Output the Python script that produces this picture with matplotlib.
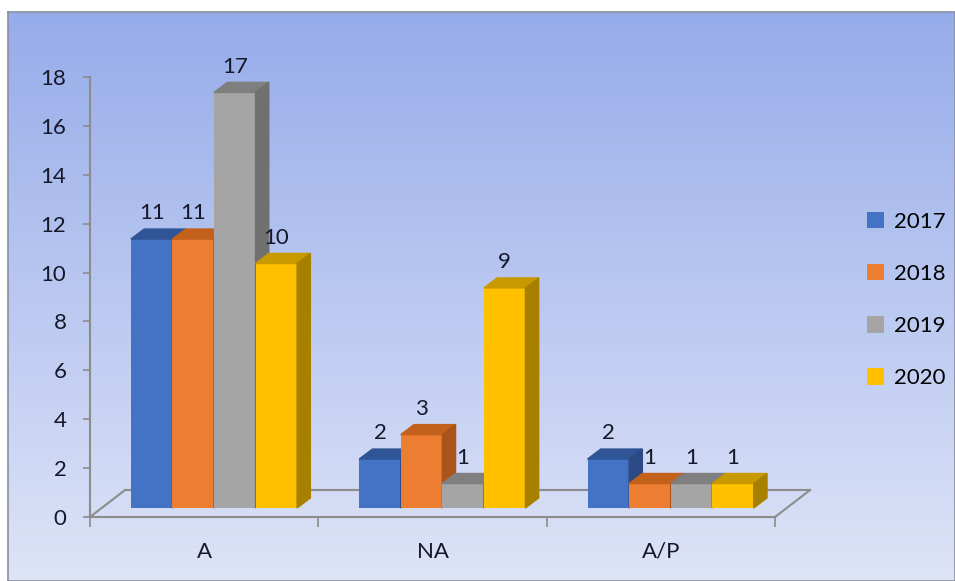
import numpy as np
import matplotlib.pyplot as plt
from matplotlib.patches import Polygon, Patch

# dados do gráfico
categorias = ['A', 'NA', 'A/P']
anos = ['2017', '2018', '2019', '2020']
valores_2017 = [11, 2, 2]
valores_2018 = [11, 3, 1]
valores_2019 = [17, 1, 1]
valores_2020 = [10, 9, 1]
series = [valores_2017, valores_2018, valores_2019, valores_2020]

cores_frente = ['#4472C4', '#ED7D31', '#A5A5A5', '#FFC000']
cores_topo = ['#2F5597', '#C2601C', '#7F7F7F', '#C99A00']
cores_lado = ['#2B4A86', '#A9541A', '#707070', '#A88000']

plt.rcParams['font.family'] = ['Lato', 'DejaVu Sans']
fs = 16
cor_texto = '#15172A'

fig = plt.figure(figsize=(9.55, 5.81), dpi=100)

# fundo em degradê
bg = fig.add_axes([8 / 955, 0, 1 - 8 / 955, 1 - 12 / 581], zorder=-10)
top_c = np.array([150, 172, 234]) / 255
bot_c = np.array([222, 228, 247]) / 255
t = np.linspace(0, 1, 256)[:, None]
grad = top_c * (1 - t) + bot_c * t
bg.imshow(grad[:, None, :].repeat(2, axis=1), aspect='auto', extent=[0, 1, 0, 1])
bg.set_xticks([])
bg.set_yticks([])
for s in bg.spines.values():
    s.set_color('#8A8FA0')
    s.set_linewidth(1.2)

ax = fig.add_axes([90 / 955, 64 / 581, 685 / 955, 440 / 581])
ax.set_facecolor('none')
ax.set_xlim(-0.5, 2.5)
ax.set_ylim(0, 18)

cinza = '#8C8C8C'
# profundidade do piso
pdx, pdy = 0.153, 1.10
ax.plot([-0.5, -0.5 + pdx], [0, pdy], color=cinza, lw=1.5, clip_on=False, zorder=1)
ax.plot([-0.5 + pdx, 2.5 + pdx], [pdy, pdy], color=cinza, lw=1.5, clip_on=False, zorder=1)
ax.plot([2.5, 2.5 + pdx], [0, pdy], color=cinza, lw=1.5, clip_on=False, zorder=1)

# barras pseudo-3D
w = 0.182
desloc = 0.043
base = 0.37
ddx, ddy = 0.058, 0.41
x = np.arange(len(categorias))
z = 3
for i in range(len(categorias)):
    for j, vals in enumerate(series):
        xl = x[i] + desloc - 2 * w + j * w
        v = vals[i]
        ax.bar(xl, v, width=w, bottom=base, align='edge', color=cores_frente[j],
               zorder=z, clip_on=False)
        topo = [(xl, base + v), (xl + w, base + v), (xl + w + ddx, base + v + ddy),
                (xl + ddx, base + v + ddy)]
        lado = [(xl + w, base), (xl + w, base + v), (xl + w + ddx, base + v + ddy),
                (xl + w + ddx, base + ddy)]
        ax.add_patch(Polygon(topo, closed=True, color=cores_topo[j], zorder=z, clip_on=False))
        ax.add_patch(Polygon(lado, closed=True, color=cores_lado[j], zorder=z, clip_on=False))
        ax.annotate(str(v), (xl + w / 2, base + v + ddy), xytext=(0, 4),
                    textcoords='offset points', ha='center', va='bottom',
                    fontsize=fs, color=cor_texto, zorder=50)
        z += 1

# eixos
for lado_sp in ['top', 'right']:
    ax.spines[lado_sp].set_visible(False)
for lado_sp in ['left', 'bottom']:
    ax.spines[lado_sp].set_color(cinza)
    ax.spines[lado_sp].set_linewidth(1.5)

ax.set_yticks(range(0, 19, 2))
ax.tick_params(axis='y', length=5, width=1.2, color=cinza, pad=12, labelsize=fs,
               labelcolor=cor_texto)
ax.set_xticks(x)
ax.set_xticklabels(categorias)
ax.set_xticks([-0.5, 0.5, 1.5, 2.5], minor=True)
ax.tick_params(axis='x', which='major', length=0, pad=18, labelsize=fs,
               labelcolor=cor_texto)
ax.tick_params(axis='x', which='minor', length=7, width=1.2, color=cinza)

# legenda
handles = [Patch(facecolor=c, edgecolor='none') for c in cores_frente]
fig.legend(handles, anos, loc='center left', bbox_to_anchor=(858 / 955, 1 - 300 / 581),
           frameon=False, fontsize=fs, handlelength=0.75, handleheight=0.75,
           handletextpad=0.45, labelspacing=1.45, borderaxespad=0)

plt.savefig('out.png', dpi=100)
